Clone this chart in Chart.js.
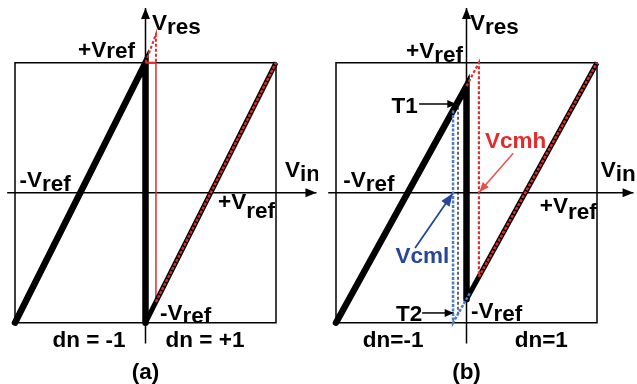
<!DOCTYPE html>
<html lang="en">
<head>
  <meta charset="UTF-8">
  <title>Residue transfer curve: dn = -1 / +1 switching</title>
  <script src="https://cdn.jsdelivr.net/npm/chart.js"></script>
  <style>
    body { margin: 0; padding: 0; background: #ffffff; }
    .wrap { position: relative; width: 637px; height: 384px; }
    canvas { position: absolute; top: 0; }
  </style>
</head>
<body>
  <div class="wrap">
    <canvas id="panelA" width="318" height="384" style="left:0"></canvas>
    <canvas id="panelB" width="319" height="384" style="left:318px"></canvas>
  </div>

  <script>
    // Vin / Vres normalised to Vref: the square spans -1..1 on both axes
    const boxPath = [[-1, -1], [1, -1], [1, 1], [-1, 1], [-1, -1]];

    // (a) ideal residue, comparator decides dn at Vin = 0
    const aVinAxis = [[-1.06, 0], [1.31, 0]];
    const aVresAxis = [[0, -1.16], [0, 1.42]];
    const aFoldLeft = [[-1, -1], [0, 1], [0, -1]];
    const aRampRight = [[0, -1], [1, 1]];
    const aRampShifted = [[0.08, -0.84], [1, 1]];
    const aShiftMarker = [[0.08, 1], [0.08, -0.84]];
    const aOvershoot = [[0, 1], [0.08, 1.22], [0.08, 1]];
    const aOvershootBase = [[0, 1], [0.08, 1]];

    // (b) residue with common-mode thresholds Vcmh / Vcml
    const bVinAxis = [[-1.06, 0], [1.28, 0]];
    const bVresAxis = [[0, -1.16], [0, 1.42]];
    const bFoldLeft = [[-1, -1], [0, 0.82], [0, -0.82]];
    const bRampRight = [[0, -0.82], [1, 1]];
    const bCmhRamp = [[0.095, -0.647], [1, 1]];
    const bCmhPath = [[0, 0.82], [0.095, 1], [0.095, -0.647]];
    const bCmlPath = [[-0.103, 0.633], [-0.103, -1], [0.03, -0.765]];
    const bMidPath = [[-0.065, 0.70], [-0.065, -0.94]];
    const bT1Arrow = [[-0.363, 0.682], [-0.078, 0.682]];
    const bT2Arrow = [[-0.34, -0.925], [-0.098, -0.925]];
    const bCmhArrow = [[0.358, 0.303], [0.097, 0.004]];
    const bCmlArrow = [[-0.394, -0.425], [-0.105, -0.004]];

    const RED = '#e42b2b';
    const RED_LIGHT = '#e8504c';
    const BLUE = '#4a7cc4';
    const BLUE_DARK = '#27459a';
    const FONT = 'bold 22.5px "Liberation Sans", Arial, sans-serif';

    // text labels: main text + optional lowered suffix (subscript)
    const aLabels = [
      { x: 0.05, y: 1.25, main: 'V', sub: 'res', dy: 4 },
      { x: -0.517, y: 1.044, main: '+V', sub: 'ref', dy: 1 },
      { x: -0.965, y: 0.044, main: '-V', sub: 'ref', dy: 4 },
      { x: 1.069, y: 0.121, main: 'V', sub: 'in', dy: 4 },
      { x: 0.556, y: -0.125, main: '+V', sub: 'ref', dy: 9 },
      { x: 0.111, y: -0.979, main: '-V', sub: 'ref', dy: 3 },
      { x: -0.433, y: -1.187, main: 'dn = -1', center: true },
      { x: 0.456, y: -1.187, main: 'dn = +1', center: true },
      { x: 0, y: -1.433, main: '(a)', center: true }
    ];
    const bLabels = [
      { x: 0.027, y: 1.25, main: 'V', sub: 'res', dy: 4 },
      { x: -0.463, y: 1.036, main: '+V', sub: 'ref', dy: 4 },
      { x: -0.944, y: 0.044, main: '-V', sub: 'ref', dy: 4 },
      { x: 1.028, y: 0.121, main: 'V', sub: 'in', dy: 4 },
      { x: 0.562, y: -0.156, main: '+V', sub: 'ref', dy: 6 },
      { x: 0.034, y: -0.964, main: '-V', sub: 'ref', dy: 3 },
      { x: -0.562, y: -1.187, main: 'dn=-1', center: true },
      { x: 0.573, y: -1.187, main: 'dn=1', center: true },
      { x: 0, y: -1.433, main: '(b)', center: true },
      { x: -0.575, y: 0.613, main: 'T1' },
      { x: -0.54, y: -0.987, main: 'T2' },
      { x: 0.141, y: 0.344, main: 'V', sub: 'cmh', dy: 0, color: RED },
      { x: -0.545, y: -0.541, main: 'V', sub: 'cml', dy: 0, color: BLUE_DARK }
    ];

    const pts = arr => arr.map(([x, y]) => ({ x, y }));

    function path(data, color, width, extra) {
      return Object.assign({
        data: pts(data), showLine: true, borderColor: color, backgroundColor: color,
        borderWidth: width, pointRadius: 0, fill: false, tension: 0
      }, extra || {});
    }

    // filled arrow head at the last point of a dataset flagged with `head`
    const arrowHeads = {
      id: 'arrowHeads',
      afterDatasetsDraw(chart) {
        const ctx = chart.ctx;
        chart.data.datasets.forEach((ds, i) => {
          if (!ds.head) return;
          const meta = chart.getDatasetMeta(i).data;
          const a = meta[meta.length - 2], b = meta[meta.length - 1];
          const ang = Math.atan2(b.y - a.y, b.x - a.x);
          const [len, half] = ds.head;
          ctx.save();
          ctx.translate(b.x, b.y);
          ctx.rotate(ang);
          ctx.fillStyle = ds.borderColor;
          ctx.beginPath();
          ctx.moveTo(0, 0);
          ctx.lineTo(-len, -half);
          ctx.lineTo(-len, half);
          ctx.closePath();
          ctx.fill();
          ctx.restore();
        });
      }
    };

    const diagramText = {
      id: 'diagramText',
      afterDraw(chart, args, opts) {
        const ctx = chart.ctx;
        const sx = chart.scales.x, sy = chart.scales.y;
        ctx.save();
        ctx.font = FONT;
        ctx.textBaseline = 'alphabetic';
        ctx.textAlign = 'left';
        (opts.items || []).forEach(l => {
          ctx.fillStyle = l.color || '#000000';
          const wMain = ctx.measureText(l.main).width;
          const wSub = l.sub ? ctx.measureText(l.sub).width : 0;
          let px = sx.getPixelForValue(l.x);
          const py = sy.getPixelForValue(l.y);
          if (l.center) px -= (wMain + wSub) / 2;
          ctx.fillText(l.main, px, py);
          if (l.sub) ctx.fillText(l.sub, px + wMain, py + l.dy);
        });
        ctx.restore();
      }
    };

    function drawPanel(id, datasets, labels, centerPx, widthPx) {
      const half = 130.5, cy = 192.7, hy = 130;
      new Chart(document.getElementById(id), {
        type: 'scatter',
        data: { datasets },
        options: {
          responsive: false,
          animation: false,
          events: [],
          layout: { padding: 0 },
          plugins: { legend: { display: false }, tooltip: { enabled: false }, diagramText: { items: labels } },
          scales: {
            x: { type: 'linear', display: false, min: -centerPx / half, max: (widthPx - centerPx) / half },
            y: { type: 'linear', display: false, min: -(384 - cy) / hy, max: cy / hy }
          }
        },
        plugins: [arrowHeads, diagramText]
      });
    }

    // datasets listed top-most first
    drawPanel('panelA', [
      path(aRampShifted, RED, 2.5, { borderDash: [3, 1.5] }),
      path(aOvershoot, RED, 2, { borderDash: [3, 2] }),
      path(aOvershootBase, RED, 2),
      path(aFoldLeft, '#000000', 6.5, { borderCapStyle: 'round' }),
      path(aRampRight, '#000000', 5),
      path(aShiftMarker, RED, 1.5),
      path(aVinAxis, '#000000', 1.5, { head: [11, 4.5] }),
      path(aVresAxis, '#000000', 1.5, { head: [11, 4.5] }),
      path(boxPath, '#000000', 1.5)
    ], aLabels, 145.5, 318);

    drawPanel('panelB', [
      path(bCmhRamp, RED, 2.5, { borderDash: [3, 1.5] }),
      path(bCmlPath, BLUE, 2.5, { borderDash: [3, 1.5] }),
      path(bCmhPath, RED, 2.2, { borderDash: [3, 2] }),
      path(bFoldLeft, '#000000', 6.5, { borderCapStyle: 'round' }),
      path(bRampRight, '#000000', 5),
      path(bMidPath, '#000000', 1.2, { borderDash: [3, 2] }),
      path(bT1Arrow, '#000000', 1.5, { head: [9, 4] }),
      path(bT2Arrow, '#000000', 1.5, { head: [9, 4] }),
      path(bCmhArrow, RED_LIGHT, 1.5, { head: [10, 4] }),
      path(bCmlArrow, BLUE_DARK, 1.8, { head: [13, 5] }),
      path(bVinAxis, '#000000', 1.5, { head: [11, 4.5] }),
      path(bVresAxis, '#000000', 1.5, { head: [11, 4.5] }),
      path(boxPath, '#000000', 1.5)
    ], bLabels, 148.5, 319);
  </script>
</body>
</html>
